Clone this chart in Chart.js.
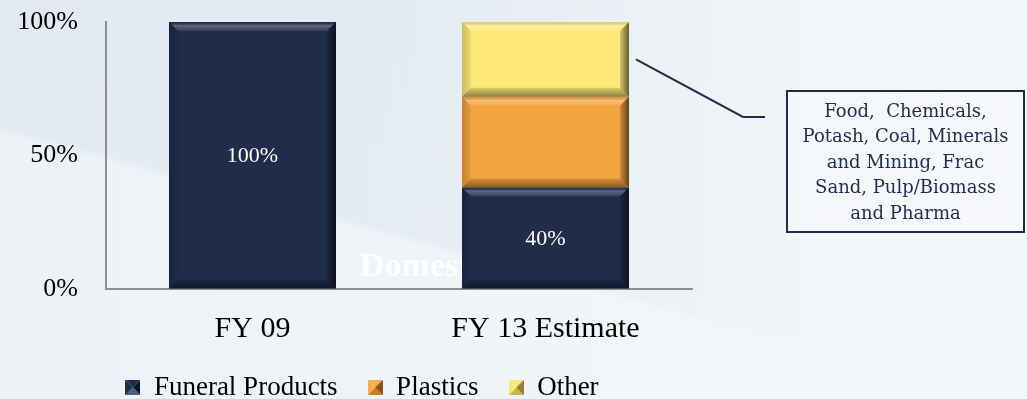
<!DOCTYPE html>
<html>
<head>
<meta charset="utf-8">
<script src="https://cdn.jsdelivr.net/npm/chart.js@4.4.0/dist/chart.umd.min.js"></script>
<style>
    html, body { margin: 0; padding: 0; }
    body {
        width: 1027px; height: 399px; overflow: hidden; position: relative;
        background: linear-gradient(90deg, #edf2f6 0%, #f1f5f8 55%, #f4f7fa 100%);
    }
    body::before {
        content: ''; position: absolute; left: 0; top: 0; width: 1027px; height: 399px;
        background: linear-gradient(195deg, #dfe8f1 0%, #e3eaf2 59.5%, rgba(227, 234, 242, 0) 60.5%);
        -webkit-mask-image: linear-gradient(90deg, #000 0%, rgba(0,0,0,0.9) 35%, rgba(0,0,0,0) 80%);
        mask-image: linear-gradient(90deg, #000 0%, rgba(0,0,0,0.9) 35%, rgba(0,0,0,0) 80%);
    }
    #wrap { position: absolute; left: 0; top: 0; width: 1027px; height: 399px; }
    #callout {
        position: absolute; left: 786px; top: 90px; width: 239px; height: 143px;
        box-sizing: border-box; border: 2px solid #1f2d4a; background: rgba(246, 249, 251, 0.6);
        display: flex; align-items: center; justify-content: center; text-align: center;
        font-family: 'DejaVu Serif', Georgia, serif; font-size: 18px; line-height: 25.4px;
        color: #1f2d4a; white-space: pre;
    }
</style>
</head>
<body>
<div id="wrap"><canvas id="mixChart" width="1027" height="399"></canvas></div>
<div id="callout"></div>
<script>
// Sales mix chart data
const categories = ['FY 09', 'FY 13 Estimate'];
const funeralProducts = [100, 38];
const plastics = [0, 34];
const other = [0, 28];
const funeralLabels = ['100%', '40%'];
const yTicks = [0, 50, 100];
const calloutLines = ['Food,\u00a0 Chemicals,', 'Potash, Coal, Minerals', 'and Mining, Frac', 'Sand, Pulp/Biomass', 'and Pharma'];

const serif = "'Liberation Serif', 'Times New Roman', serif";
const navy = '#1f2d4b';
const orange = '#f4a43f';
const yellow = '#fde878';

document.getElementById('callout').textContent = calloutLines.join('\n');

// small bevelled squares for the legend
function legendIcon(light, base, dark) {
    const c = document.createElement('canvas');
    c.width = 15; c.height = 15;
    const g = c.getContext('2d');
    const tri = (pts, col) => {
        g.beginPath();
        g.moveTo(pts[0][0], pts[0][1]);
        pts.slice(1).forEach(p => g.lineTo(p[0], p[1]));
        g.closePath();
        g.fillStyle = col;
        g.fill();
    };
    tri([[0, 0], [15, 0], [7.5, 7.5]], base);
    tri([[0, 15], [15, 15], [7.5, 7.5]], light);
    tri([[0, 0], [0, 15], [7.5, 7.5]], base);
    tri([[15, 0], [15, 15], [7.5, 7.5]], dark);
    return c;
}
const legendIcons = [
    legendIcon('#4a5d85', navy, '#0c1426'),
    legendIcon('#c97d22', '#f6ad4c', '#8a5514'),
    legendIcon('#c9b54a', '#fbe77a', '#8f8236')
];

function poly(ctx, pts, fill) {
    ctx.beginPath();
    ctx.moveTo(pts[0][0], pts[0][1]);
    for (let i = 1; i < pts.length; i++) ctx.lineTo(pts[i][0], pts[i][1]);
    ctx.closePath();
    ctx.fillStyle = fill;
    ctx.fill();
}

function drawBevel(ctx, left, top, right, bottom) {
    const d = Math.min(9, (right - left) / 2, (bottom - top) / 2);
    let g = ctx.createLinearGradient(0, top, 0, top + d);
    g.addColorStop(0, 'rgba(0,0,0,0.1)');
    g.addColorStop(0.4, 'rgba(255,255,255,0.28)');
    g.addColorStop(1, 'rgba(255,255,255,0.08)');
    poly(ctx, [[left, top], [right, top], [right - d, top + d], [left + d, top + d]], g);
    g = ctx.createLinearGradient(0, bottom - d, 0, bottom);
    g.addColorStop(0, 'rgba(0,0,0,0.12)');
    g.addColorStop(1, 'rgba(0,0,0,0.45)');
    poly(ctx, [[left, bottom], [right, bottom], [right - d, bottom - d], [left + d, bottom - d]], g);
    g = ctx.createLinearGradient(left, 0, left + d, 0);
    g.addColorStop(0, 'rgba(0,0,0,0.2)');
    g.addColorStop(1, 'rgba(0,0,0,0.05)');
    poly(ctx, [[left, top], [left + d, top + d], [left + d, bottom - d], [left, bottom]], g);
    g = ctx.createLinearGradient(right - d, 0, right, 0);
    g.addColorStop(0, 'rgba(0,0,0,0.15)');
    g.addColorStop(1, 'rgba(0,0,0,0.6)');
    poly(ctx, [[right, top], [right - d, top + d], [right - d, bottom - d], [right, bottom]], g);
}

function barBox(el) {
    const p = el.getProps(['x', 'y', 'base', 'width'], true);
    return {
        left: p.x - p.width / 2, right: p.x + p.width / 2,
        top: Math.min(p.y, p.base), bottom: Math.max(p.y, p.base), x: p.x
    };
}

const decorPlugin = {
    id: 'decor',
    afterLayout(chart) {
        // centre the legend row under the bars like the original
        const lg = chart.legend;
        const dx = 362 - (lg.left + lg.right) / 2;
        lg.left += dx; lg.right += dx;
        lg.top -= 3; lg.bottom -= 3;
    },
    beforeDatasetsDraw(chart) {
        const ctx = chart.ctx;
        ctx.save();
        ctx.font = 'bold 34px ' + serif;
        ctx.fillStyle = 'rgba(255,255,255,0.85)';
        ctx.textAlign = 'left';
        ctx.textBaseline = 'alphabetic';
        ctx.fillText('Domestic', 360, 276);
        ctx.restore();
    },
    afterDatasetsDraw(chart) {
        const ctx = chart.ctx;
        ctx.save();
        chart.data.datasets.forEach((ds, i) => {
            chart.getDatasetMeta(i).data.forEach(el => {
                const b = barBox(el);
                if (b.bottom - b.top < 1) return;
                drawBevel(ctx, b.left, b.top, b.right, b.bottom);
            });
        });
        // value labels on the funeral products bars
        ctx.font = '22px ' + serif;
        ctx.fillStyle = '#ffffff';
        ctx.textAlign = 'center';
        ctx.textBaseline = 'middle';
        chart.getDatasetMeta(0).data.forEach((el, j) => {
            const b = barBox(el);
            ctx.fillText(funeralLabels[j], b.x, (b.top + b.bottom) / 2 + 1);
        });
        // leader line from the "Other" segment to the callout
        const o = barBox(chart.getDatasetMeta(2).data[1]);
        ctx.strokeStyle = '#1f2d4a';
        ctx.lineWidth = 2;
        ctx.beginPath();
        ctx.moveTo(o.right + 7, (o.top + o.bottom) / 2);
        ctx.lineTo(743, 117);
        ctx.lineTo(765, 117);
        ctx.stroke();
        ctx.restore();
    }
};

const ctx = document.getElementById('mixChart').getContext('2d');
window.mixChart = new Chart(ctx, {
    type: 'bar',
    data: {
        labels: categories,
        datasets: [
            { label: 'Funeral Products', data: funeralProducts, backgroundColor: navy },
            { label: 'Plastics', data: plastics, backgroundColor: orange },
            { label: 'Other', data: other, backgroundColor: yellow }
        ]
    },
    options: {
        responsive: false,
        animation: false,
        layout: { padding: { top: 22, right: 335, left: 0, bottom: 0 } },
        datasets: { bar: { categoryPercentage: 0.57, barPercentage: 1, borderWidth: 0 } },
        plugins: {
            tooltip: { enabled: false },
            legend: {
                position: 'bottom',
                maxHeight: 52,
                labels: {
                    font: { family: serif, size: 27 },
                    color: '#000000',
                    usePointStyle: true,
                    boxWidth: 15,
                    boxHeight: 15,
                    padding: 30,
                    generateLabels(chart) {
                        const items = Chart.defaults.plugins.legend.labels.generateLabels(chart);
                        items.forEach((it, i) => { it.pointStyle = legendIcons[i]; });
                        return items;
                    }
                }
            }
        },
        scales: {
            x: {
                stacked: true,
                grid: { display: false, drawTicks: false },
                border: { display: true, color: '#8f8f8f', width: 2 },
                ticks: { font: { family: serif, size: 30 }, color: '#000000', padding: 22 },
                afterFit(scale) { scale.height = 58; }
            },
            y: {
                stacked: true,
                min: 0,
                max: 100,
                afterBuildTicks(scale) { scale.ticks = yTicks.map(v => ({ value: v })); },
                // invisible tick marks keep the labels away from the axis
                grid: { display: true, drawOnChartArea: false, drawTicks: true, tickLength: 24, color: 'rgba(0,0,0,0)' },
                border: { display: true, color: '#8f8f8f', width: 2 },
                ticks: {
                    font: { family: serif, size: 26 },
                    color: '#000000',
                    padding: 4,
                    callback: v => v + '%'
                },
                afterFit(scale) { scale.width = 106; }
            }
        }
    },
    plugins: [decorPlugin]
});
</script>
</body>
</html>
